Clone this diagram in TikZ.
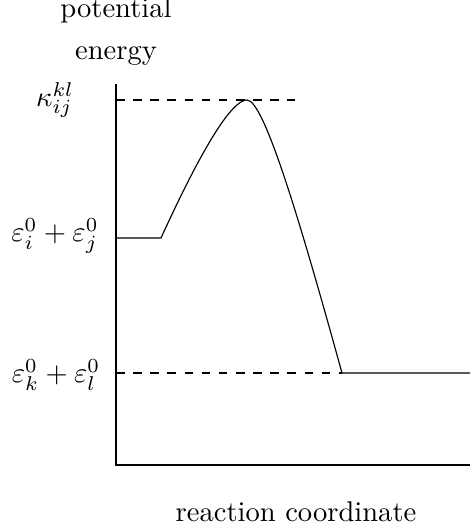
\documentclass[tikz,border=0pt]{standalone}
\usetikzlibrary{positioning}
\begin{document}
\begin{tikzpicture}[x=0.35pt, y=-0.35pt, level/.style={dashed}, lbl/.style={inner sep=1pt}]
        \useasboundingbox (0,0) rectangle (470,528);

        % axes
        \coordinate (top)    at (116,84);
        \coordinate (origin) at (116,465);
        \coordinate (xend)   at (470,465);

        % energy profile
        \coordinate (start)  at (161,238);
        \coordinate (peak)   at (247,100);
        \coordinate (bottom) at (342,373);
        \coordinate (finish) at (470,373);
        \coordinate (kend)   at (295,100);

        \node[anchor=base] (potential) at (116,18) {potential};
        \node[anchor=base] (energy)    at (116,60) {energy};
        \node[anchor=base] (rc)        at (296,521) {reaction coordinate};

        \node[lbl] (kappa) at (55,100) {$\kappa_{ij}^{kl}$};
        \node[lbl] (eij)   at (55,236) {$\varepsilon_i^0+\varepsilon_j^0$};
        \node[lbl] (ekl)   at (56,375) {$\varepsilon_k^0+\varepsilon_l^0$};

        \draw (top) -- (origin) -- (xend);
        \draw (origin |- start) -- (start)
              .. controls (203,146) and (232,100) .. (peak)
              .. controls (264,100) and (300,221) .. (bottom) -- (finish);
        \draw[level] (origin |- peak) -- (kend);
        \draw[level] (origin |- bottom) -- (bottom);
\end{tikzpicture}
\end{document}
